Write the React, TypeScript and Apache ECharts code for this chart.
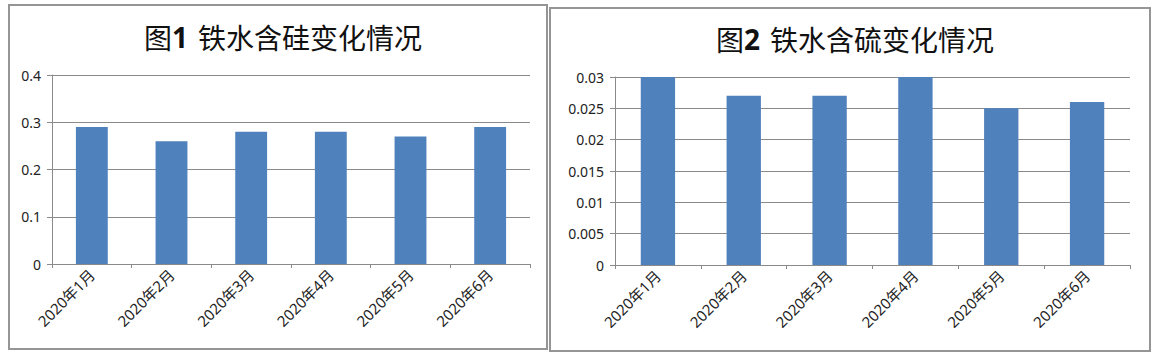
import React, { useEffect, useRef } from "react";
import * as echarts from "echarts";

const categories = ["2020年1月", "2020年2月", "2020年3月", "2020年4月", "2020年5月", "2020年6月"];
const siliconValues = [0.29, 0.26, 0.28, 0.28, 0.27, 0.29];
const sulfurValues = [0.03, 0.027, 0.027, 0.03, 0.025, 0.026];
const title1 = { pre: "图", num: "1", text: "铁水含硅变化情况" };
const title2 = { pre: "图", num: "2", text: "铁水含硫变化情况" };

const FONT = "Noto Sans, Noto Sans CJK SC, sans-serif";
const GRID_COLOR = "#8a8a8a";
const BAR_COLOR = "#4F81BD";

function xAxisCfg(gridIndex: number) {
  return {
    type: "category",
    gridIndex,
    data: categories,
    axisLine: { lineStyle: { color: GRID_COLOR } },
    axisTick: { show: true, length: 4, lineStyle: { color: GRID_COLOR } },
    axisLabel: {
      rotate: 45,
      color: "#222",
      fontSize: 15,
      fontFamily: FONT,
      margin: 8,
      interval: 0,
    },
  };
}

function yAxisCfg(gridIndex: number, max: number, interval: number, fmt: (v: number) => string) {
  return {
    type: "value",
    gridIndex,
    min: 0,
    max,
    interval,
    axisLine: { show: true, lineStyle: { color: GRID_COLOR } },
    axisTick: { show: true, length: 5, lineStyle: { color: GRID_COLOR } },
    splitLine: { show: true, lineStyle: { color: GRID_COLOR, width: 1 } },
    axisLabel: { color: "#222", fontSize: 14, fontFamily: FONT, margin: 11, formatter: fmt },
  };
}

export default function App() {
  const ref = useRef<HTMLDivElement>(null);
  useEffect(() => {
    if (!ref.current) return;
    const chart = echarts.init(ref.current, null, { renderer: "svg" });
    const titleRich = {
      n: { fontSize: 28, fontWeight: "bold", fontFamily: FONT, color: "#111" },
      t: { fontSize: 28, fontWeight: "normal", fontFamily: "Noto Sans CJK SC, sans-serif", color: "#111" },
    };
    const mk = (t: { pre: string; num: string; text: string }) =>
      `{t|${t.pre}}{n|${t.num}}  {t|${t.text}}`;
    chart.setOption({
      animation: false,
      backgroundColor: "#fff",
      title: [
        {
          text: mk(title1),
          left: 278,
          top: 18,
          textAlign: "center",
          textStyle: { fontWeight: "normal", rich: titleRich },
        },
        {
          text: mk(title2),
          left: 850,
          top: 20,
          textAlign: "center",
          textStyle: { fontWeight: "normal", rich: titleRich },
        },
      ],
      graphic: [
        {
          type: "rect",
          shape: { x: 9, y: 5, width: 538, height: 344 },
          style: { fill: "none", stroke: "#959595", lineWidth: 2 },
        },
        {
          type: "rect",
          shape: { x: 550, y: 8, width: 600, height: 343 },
          style: { fill: "none", stroke: "#959595", lineWidth: 2 },
        },
      ],
      grid: [
        { left: 52, right: 627, top: 75, bottom: 95 },
        { left: 615, right: 27, top: 77, bottom: 94 },
      ],
      xAxis: [xAxisCfg(0), xAxisCfg(1)],
      yAxis: [
        yAxisCfg(0, 0.4, 0.1, (v: number) => (v === 0 ? "0" : String(+v.toFixed(1)))),
        yAxisCfg(1, 0.03, 0.005, (v: number) => (v === 0 ? "0" : String(+v.toFixed(3)))),
      ],
      series: [
        {
          type: "bar",
          xAxisIndex: 0,
          yAxisIndex: 0,
          data: siliconValues,
          barWidth: "40%",
          itemStyle: { color: BAR_COLOR },
        },
        {
          type: "bar",
          xAxisIndex: 1,
          yAxisIndex: 1,
          data: sulfurValues,
          barWidth: "40%",
          itemStyle: { color: BAR_COLOR },
        },
      ],
    });
    return () => chart.dispose();
  }, []);
  return (
    <div
      ref={ref}
      style={{ position: "absolute", left: 0, top: 0, width: 1157, height: 359 }}
    />
  );
}
